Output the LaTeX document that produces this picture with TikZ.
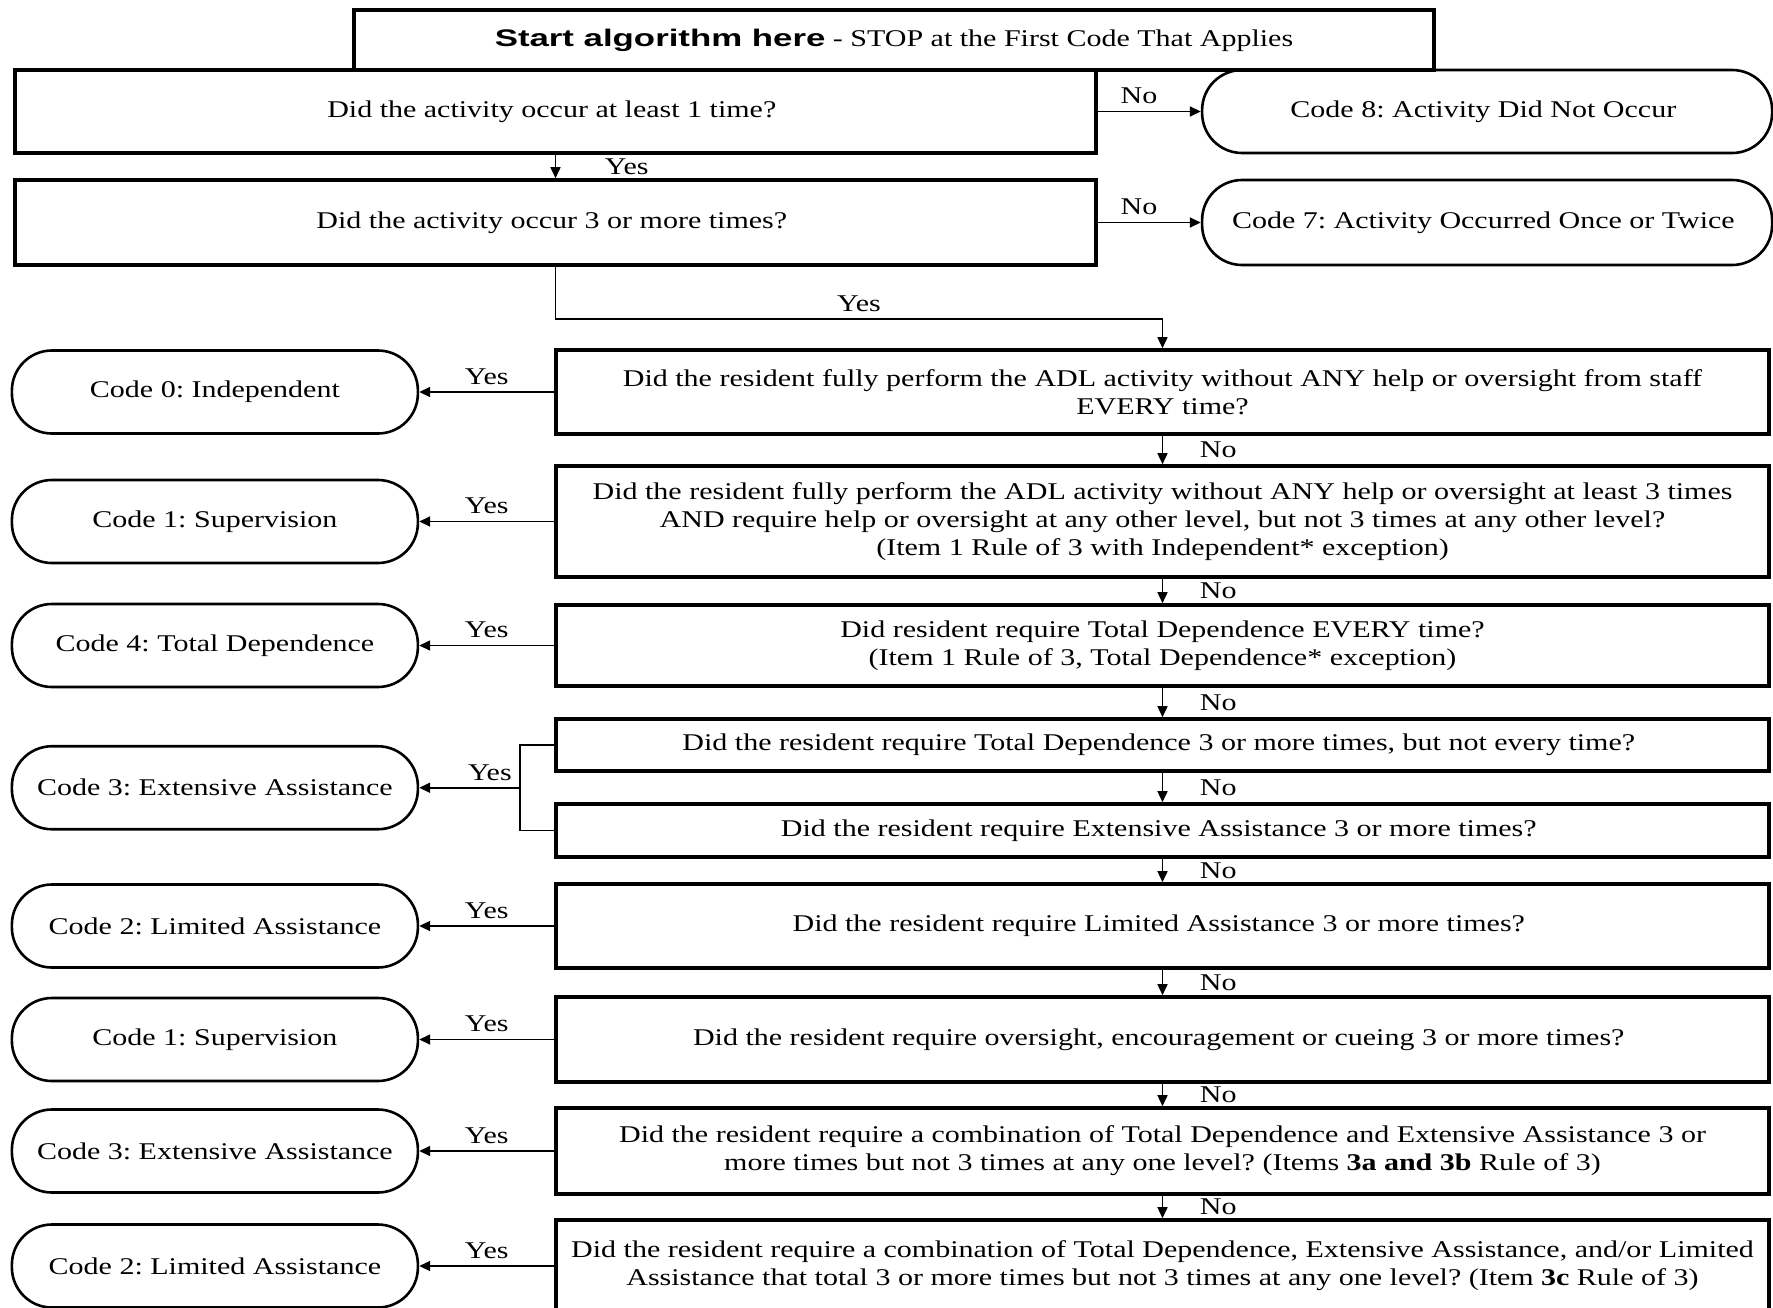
\documentclass[tikz,border=0pt]{standalone}
\usepackage{fontspec}
\setmainfont{Liberation Serif}[FakeStretch=1.25]
\newfontfamily\startfont{Liberation Sans}[FakeStretch=1.45]
\usetikzlibrary{arrows.meta, positioning, calc}
\tikzstyle{question} = [
  rectangle, minimum width=606.5pt, inner sep=3pt,
  text centered, align=center, draw=black, line width=1.8pt
]
\tikzstyle{entry} = [
  rectangle, minimum width=540.5pt, inner sep=3pt,
  text centered, align=center, draw=black, line width=1.8pt
]
\tikzstyle{code} = [
  rectangle, rounded corners=20pt, minimum width=203pt, minimum height=41.5pt,
  text centered, align=center, draw=black, line width=1.3pt
]
\tikzset{
  arrow/.style={
    line width=0.8pt,
    -{Triangle[length=5.5pt,width=5pt]}
  }
}

\begin{document}
\frenchspacing
\begin{tikzpicture}[
  x=0.5pt, y=0.5pt,
  font=\fontsize{12}{14}\selectfont
]
\useasboundingbox (0,0) rectangle (1773,-1307);

% ------------------------------------------------
% CABECERA Y PRIMERAS PREGUNTAS
% ------------------------------------------------

\node[rectangle, draw=black, line width=1.8pt, minimum width=540pt, minimum height=30pt] (start) at (894,-40) {%
  {\startfont\bfseries Start algorithm here} - STOP at the First Code That Applies
};

\node[entry, minimum height=41.5pt] (q1) at (555.5,-111.5) {%
  Did the activity occur at least 1 time?
};

\node[entry, minimum height=42.5pt, below=11.7pt of q1] (q2) {%
  Did the activity occur 3 or more times?
};

\node[code, minimum width=285pt, right=51.5pt of q1] (c8) {%
  Code 8: Activity Did Not Occur
};

\node[code, minimum width=285pt, minimum height=42.5pt, right=51.5pt of q2] (c7) {%
  Code 7: Activity Occurred Once or Twice
};

% ------------------------------------------------
% COLUMNA DERECHA - preguntas
% ------------------------------------------------

\node[question, minimum height=42pt] (q3) at (1162.5,-392) {%
  Did the resident fully perform the ADL activity without ANY help or oversight from staff\\
  EVERY time?
};

\node[question, minimum height=55.5pt, below=14.2pt of q3] (q4) {%
  Did the resident fully perform the ADL activity without ANY help or oversight at least 3 times\\
  AND require help or oversight at any other level, but not 3 times at any other level?\\
  (Item 1 Rule of 3 with Independent* exception)
};

\node[question, minimum height=40.5pt, below=12.2pt of q4] (q5) {%
  Did resident require Total Dependence EVERY time?\\
  (Item 1 Rule of 3, Total Dependence* exception)
};

\node[question, minimum height=26pt, below=14.7pt of q5] (q6a) {%
  Did the resident require Total Dependence 3 or more times, but not every time?
};

\node[question, minimum height=26.5pt, below=14.7pt of q6a] (q6b) {%
  Did the resident require Extensive Assistance 3 or more times?
};

\node[question, minimum height=42pt, below=11.7pt of q6b] (q7) {%
  Did the resident require Limited Assistance 3 or more times?
};

\node[question, minimum height=42.5pt, below=12.7pt of q7] (q8) {%
  Did the resident require oversight, encouragement or cueing 3 or more times?
};

\node[question, minimum height=43pt, below=11.2pt of q8] (q9) {%
  Did the resident require a combination of Total Dependence and Extensive Assistance 3 or\\
  more times but not 3 times at any one level? (Items \textbf{3a and 3b} Rule of 3)
};

\node[question, minimum height=46pt, below=11.2pt of q9] (q10) {%
  Did the resident require a combination of Total Dependence, Extensive Assistance, and/or Limited\\
  Assistance that total 3 or more times but not 3 times at any one level? (Item \textbf{3c} Rule of 3)
};

\coordinate (brk) at ($(q6a.west)!0.5!(q6b.west)+(-34,0)$);

% ------------------------------------------------
% COLUMNA IZQUIERDA - codigos
% ------------------------------------------------

\node[code, left=67.5pt of q3] (c0) {Code 0: Independent};
\node[code, left=67.5pt of q4] (c1a) {Code 1: Supervision};
\node[code, left=67.5pt of q5] (c4) {Code 4: Total Dependence};
\node[code, left=50.5pt of brk] (c3a) {Code 3: Extensive Assistance};
\node[code, left=67.5pt of q7] (c2a) {Code 2: Limited Assistance};
\node[code, left=67.5pt of q8] (c1b) {Code 1: Supervision};
\node[code, left=67.5pt of q9] (c3b) {Code 3: Extensive Assistance};
\node[code, left=67.5pt of q10] (c2b) {Code 2: Limited Assistance};

% ------------------------------------------------
% FLECHAS
% ------------------------------------------------

\draw[arrow] (q1.east) -- (c8.west) node[pos=0.4, above] {No};
\draw[arrow] (q2.east) -- (c7.west) node[pos=0.4, above] {No};
\draw[arrow] (q1.south) -- (q2.north) node[midway, right=21pt] {Yes};
\draw[arrow] (q2.south) -- ++(0,-52) -| (q3.north) node[pos=0.25, above] {Yes};

\draw[arrow] (q3.south) -- (q4.north) node[midway, right=15pt] {No};
\draw[arrow] (q4.south) -- (q5.north) node[midway, right=15pt] {No};
\draw[arrow] (q5.south) -- (q6a.north) node[midway, right=15pt] {No};
\draw[arrow] (q6a.south) -- (q6b.north) node[midway, right=15pt] {No};
\draw[arrow] (q6b.south) -- (q7.north) node[midway, right=15pt] {No};
\draw[arrow] (q7.south) -- (q8.north) node[midway, right=15pt] {No};
\draw[arrow] (q8.south) -- (q9.north) node[midway, right=15pt] {No};
\draw[arrow] (q9.south) -- (q10.north) node[midway, right=15pt] {No};

\draw[arrow] (q3.west) -- (c0.east) node[midway, above] {Yes};
\draw[arrow] (q4.west) -- (c1a.east) node[midway, above] {Yes};
\draw[arrow] (q5.west) -- (c4.east) node[midway, above] {Yes};
\draw[line width=0.8pt] (q6a.west) -| (brk) |- (q6b.west);
\draw[arrow] (brk) -- (c3a.east) node[pos=0.3, above] {Yes};
\draw[arrow] (q7.west) -- (c2a.east) node[midway, above] {Yes};
\draw[arrow] (q8.west) -- (c1b.east) node[midway, above] {Yes};
\draw[arrow] (q9.west) -- (c3b.east) node[midway, above] {Yes};
\draw[arrow] (q10.west) -- (c2b.east) node[midway, above] {Yes};

\end{tikzpicture}
\end{document}
